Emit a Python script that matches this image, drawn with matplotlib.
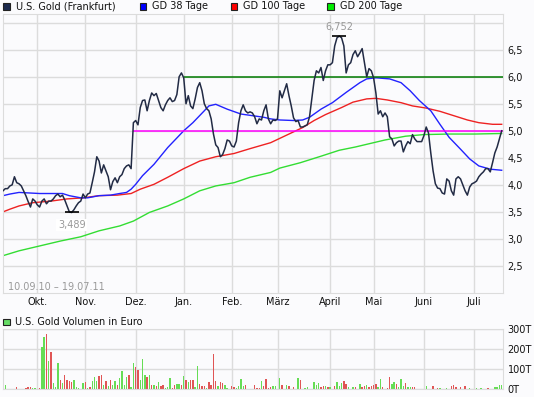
import numpy as np
import matplotlib.pyplot as plt
from matplotlib.patches import Rectangle

plt.rcParams['font.family'] = ['DejaVu Sans']
plt.rcParams['font.size'] = 7

# trading calendar (Frankfurt)
start = '2010-09-10'
holidays = ['2010-12-24', '2010-12-31', '2011-04-22', '2011-04-25']

# daily close, EUR
price = [3.89, 3.93, 3.93, 3.98, 4.00, 4.15, 4.04, 4.02, 3.98, 3.89,
         3.80, 3.69, 3.59, 3.74, 3.70, 3.63, 3.59, 3.70, 3.74, 3.65,
         3.70, 3.70, 3.74, 3.80, 3.83, 3.78, 3.81, 3.72, 3.61, 3.50,
         3.489, 3.54, 3.61, 3.67, 3.70, 3.83, 3.76, 3.83, 3.85, 4.04,
         4.24, 4.52, 4.44, 4.22, 4.37, 4.26, 4.15, 3.91, 4.06, 4.13,
         4.04, 4.15, 4.19, 4.30, 4.35, 4.37, 4.30, 5.15, 5.19, 5.11,
         5.43, 5.56, 5.57, 5.37, 5.56, 5.70, 5.65, 5.69, 5.56, 5.43,
         5.37, 5.48, 5.56, 5.61, 5.54, 5.56, 5.67, 6.00, 6.07, 5.98,
         5.50, 5.65, 5.46, 5.41, 5.59, 5.80, 5.89, 5.74, 5.50, 5.41,
         5.37, 5.22, 4.94, 4.74, 4.69, 4.52, 4.56, 4.67, 4.83, 4.81,
         4.72, 4.70, 4.81, 5.15, 5.37, 5.48, 5.37, 5.33, 5.35, 5.33,
         5.26, 5.13, 5.22, 5.20, 5.37, 5.48, 5.22, 5.13, 5.20, 5.19,
         5.22, 5.74, 5.61, 5.74, 5.87, 5.65, 5.46, 5.24, 5.17, 5.19,
         5.07, 5.07, 5.09, 5.11, 5.26, 5.59, 5.93, 6.11, 6.07, 6.17,
         5.93, 6.11, 6.22, 6.22, 6.26, 6.57, 6.72, 6.752, 6.72, 6.57,
         6.07, 6.22, 6.26, 6.41, 6.48, 6.37, 6.44, 6.52, 6.26, 6.00,
         6.15, 6.11, 5.98, 5.70, 5.31, 5.37, 5.26, 5.33, 5.26, 4.89,
         4.85, 4.72, 4.78, 4.81, 4.81, 4.61, 4.72, 4.80, 4.76, 4.93,
         4.85, 4.80, 4.80, 4.80, 4.91, 5.07, 4.96, 4.59, 4.26, 4.02,
         3.94, 3.93, 3.85, 3.83, 4.11, 4.07, 3.89, 3.81, 4.11, 4.15,
         4.11, 4.00, 3.89, 3.81, 3.96, 4.02, 4.04, 4.07, 4.15, 4.20,
         4.24, 4.30, 4.30, 4.24, 4.41, 4.59, 4.70, 4.85, 5.00]

# daily volume in thousand EUR
volume = [7, 20, 0, 0, 0, 0, 10, 0, 0, 0,
          7, 10, 10, 7, 7, 0, 7, 210, 260, 275,
          140, 187, 30, 12, 132, 45, 30, 70, 45, 40,
          37, 45, 10, 7, 0, 30, 37, 7, 12, 40,
          62, 40, 67, 70, 20, 40, 15, 45, 20, 40,
          20, 57, 90, 20, 62, 70, 10, 133, 110, 97,
          45, 150, 73, 60, 73, 20, 20, 15, 37, 15,
          20, 7, 10, 57, 7, 20, 25, 25, 20, 65,
          45, 35, 45, 45, 10, 115, 25, 15, 15, 5,
          35, 20, 175, 40, 15, 35, 30, 20, 7, 0,
          15, 10, 7, 15, 50, 15, 20, 0, 0, 0,
          20, 7, 7, 40, 15, 50, 7, 10, 15, 15,
          0, 57, 20, 0, 20, 15, 0, 10, 0, 57,
          45, 0, 7, 10, 0, 0, 35, 20, 30, 10,
          15, 15, 10, 10, 0, 15, 35, 15, 30, 40,
          25, 10, 0, 10, 10, 0, 25, 10, 15, 20,
          10, 15, 20, 27, 10, 52, 10, 0, 7, 60,
          27, 35, 25, 10, 52, 15, 30, 10, 10, 10,
          10, 0, 0, 0, 0, 15, 0, 0, 15, 0,
          7, 7, 0, 0, 5, 0, 15, 20, 10, 0,
          10, 0, 15, 0, 7, 0, 0, 7, 0, 7,
          0, 0, 7, 0, 0, 10, 10, 20, 20]
# g = up day, r = down day, - = no trade
vol_dir = ('rg----r---' 'rrrgg-rggr' 'grgggrgrrr' 'rggg-grgrg' 'ggrrgrgrgg'
           'rggggrggrr' 'gggrgrgrgr' 'rgggrrggrg' 'rgrrggrrrg' 'rrrrgrrgg-'
           'rrggggr---' 'rrrgrrrrgg' '-gr-gr-r-g' 'r-gg--gggr' 'rgrg-rgggr'
           'rg-gr-grrg' 'rrrrggr-rr' 'ggrgggrggr' 'r----g--r-' 'rg--g-rrr-'
           'r-r-g--g-g' '--r--gggg')

gd38_dates = ['2010-09-10', '2010-09-15', '2010-09-21', '2010-10-04', '2010-10-12',
              '2010-10-18', '2010-10-21', '2010-10-28', '2010-11-02', '2010-11-09',
              '2010-11-16', '2010-11-22', '2010-11-25', '2010-11-29', '2010-12-01',
              '2010-12-06', '2010-12-13', '2010-12-21', '2011-01-03', '2011-01-07',
              '2011-01-14', '2011-01-18', '2011-01-21', '2011-01-28', '2011-02-07',
              '2011-02-14', '2011-02-21', '2011-02-24', '2011-03-02', '2011-03-10',
              '2011-03-16', '2011-03-21', '2011-03-28', '2011-04-04', '2011-04-12',
              '2011-04-20', '2011-04-27', '2011-05-03', '2011-05-11', '2011-05-18',
              '2011-05-24', '2011-05-30', '2011-06-06', '2011-06-10', '2011-06-16',
              '2011-06-23', '2011-06-29', '2011-07-05', '2011-07-12', '2011-07-19']
gd38 = [3.80, 3.83, 3.86, 3.84, 3.84, 3.84, 3.80, 3.76, 3.76, 3.80,
        3.81, 3.84, 3.86, 3.92, 4.01, 4.17, 4.38, 4.69, 5.00, 5.15,
        5.37, 5.46, 5.49, 5.40, 5.31, 5.28, 5.25, 5.22, 5.20, 5.19,
        5.20, 5.25, 5.40, 5.52, 5.71, 5.89, 5.96, 5.98, 5.96, 5.89,
        5.74, 5.56, 5.37, 5.12, 4.88, 4.66, 4.48, 4.35, 4.29, 4.27]

gd100_dates = ['2010-09-10', '2010-09-15', '2010-09-21', '2010-09-29', '2010-10-11',
               '2010-10-20', '2010-10-29', '2010-11-09', '2010-11-19', '2010-11-29',
               '2010-12-03', '2010-12-13', '2010-12-21', '2011-01-03', '2011-01-12',
               '2011-01-21', '2011-02-02', '2011-02-11', '2011-02-24', '2011-03-07',
               '2011-03-16', '2011-03-23', '2011-03-30', '2011-04-08', '2011-04-15',
               '2011-04-27', '2011-05-03', '2011-05-10', '2011-05-18', '2011-05-25',
               '2011-06-02', '2011-06-10', '2011-06-20', '2011-06-28', '2011-07-05',
               '2011-07-13', '2011-07-19']
gd100 = [3.50, 3.55, 3.61, 3.67, 3.70, 3.74, 3.76, 3.80, 3.81, 3.84,
         3.92, 4.01, 4.14, 4.30, 4.44, 4.52, 4.58, 4.67, 4.78, 4.92,
         5.06, 5.19, 5.30, 5.43, 5.53, 5.59, 5.60, 5.57, 5.52, 5.46,
         5.42, 5.36, 5.28, 5.20, 5.15, 5.12, 5.12]

gd200_dates = ['2010-09-10', '2010-09-21', '2010-10-04', '2010-10-15', '2010-10-28',
               '2010-11-09', '2010-11-22', '2010-11-30', '2010-12-09', '2010-12-21',
               '2011-01-03', '2011-01-12', '2011-01-21', '2011-02-02', '2011-02-11',
               '2011-02-24', '2011-03-02', '2011-03-15', '2011-03-28', '2011-04-07',
               '2011-04-18', '2011-04-28', '2011-05-09', '2011-05-20', '2011-06-01',
               '2011-06-16', '2011-07-01', '2011-07-19']
gd200 = [2.69, 2.78, 2.87, 2.96, 3.04, 3.15, 3.24, 3.33, 3.49, 3.61,
         3.74, 3.89, 3.98, 4.04, 4.14, 4.23, 4.31, 4.41, 4.53, 4.64,
         4.70, 4.76, 4.83, 4.90, 4.93, 4.94, 4.94, 4.95]

# horizontal marker lines
level_vals = [6.0, 5.0]
level_from = ['2011-01-03', '2010-11-30']
level_cols = ['#007a00', '#ff00ff']

month_starts = ['2010-10-01', '2010-11-01', '2010-12-01', '2011-01-01', '2011-02-01',
                '2011-03-01', '2011-04-01', '2011-05-01', '2011-06-01', '2011-07-01']
month_labels = ['Okt.', 'Nov.', 'Dez.', 'Jan.', 'Feb.', 'März', 'April', 'Mai', 'Juni', 'Juli']

legend_labels = ['U.S. Gold (Frankfurt)', 'GD 38 Tage', 'GD 100 Tage', 'GD 200 Tage']
legend_cols = ['#1c2a4e', '#0000ff', '#ff0000', '#00ee00']

BG = '#fbfbfd'
GRID = '#dcdcdc'
W, H = 534, 397


def tday(d):
    return np.busday_count(start, d, holidays=holidays)


def dec(v, n):
    return f'{v:.{n}f}'.replace('.', ',')


n = len(price)
x = np.arange(n)
days = np.busday_offset(start, x, holidays=holidays)
mx = tday(month_starts)

fig = plt.figure(figsize=(W / 100, H / 100), dpi=100, facecolor=BG)

# price panel
ax = fig.add_axes([3 / W, 1 - 293 / H, 500.3 / W, 279 / H], facecolor=BG)
ax.set_xlim(0, 218.7)
ax.set_ylim(2.0, 7.16)
yt = np.arange(2.5, 7.01, 0.5)
ax.set_yticks(yt)
ax.set_yticklabels([dec(v, 1) if v < 6.9 else '' for v in yt])
ax.yaxis.tick_right()
ax.set_xticks(mx)
ax.set_xticklabels(month_labels)
ax.tick_params(length=0, pad=3, labelsize=7, colors='#111111')
ax.grid(True, color=GRID, lw=1)
ax.set_axisbelow(True)
for s in ax.spines.values():
    s.set_color(GRID)

ax.plot(tday(gd200_dates), gd200, color='#33dd33', lw=1)
ax.plot(tday(gd100_dates), gd100, color='#ee2222', lw=1)
ax.plot(tday(gd38_dates), gd38, color='#2222ff', lw=1)
for v, d, c in zip(level_vals, level_from, level_cols):
    ax.hlines(v, tday(d), 218.7, color=c, lw=1.1, zorder=3)
ax.plot(x, price, color='#222b45', lw=1.1, zorder=4)

imax = int(np.argmax(price))
imin = int(np.argmin(price))
ax.plot([imax, imin], [price[imax], price[imin]], ls='none', marker='_',
        ms=10, mew=1.2, color='black', zorder=5)
ax.annotate(dec(price[imax], 3), (imax, price[imax]), xytext=(0, 6.5),
            textcoords='offset points', ha='center', va='center', color='#999999')
ax.annotate(dec(price[imin], 3), (imin, price[imin]), xytext=(0, -9),
            textcoords='offset points', ha='center', va='center', color='#999999',
            bbox=dict(boxstyle='square,pad=0.15', fc='white', ec='none'))

d0 = days[0].astype(object)
d1 = days[-1].astype(object)
ax.text(0.0106, 0.0215, f'{d0:%d.%m.%y} – {d1:%d.%m.%y}', transform=ax.transAxes,
        ha='left', va='center', color='#999999')

# legend across the top
for lx, label, col in zip([3, 139.6, 230.6, 327], legend_labels, legend_cols):
    fig.add_artist(Rectangle((lx / W, 1 - 9.5 / H), 6.5 / W, 6.5 / H, fc=col,
                             ec='#222222', lw=0.8, transform=fig.transFigure))
    fig.text((lx + 12.5) / W, 1 - 6.3 / H, label, ha='left', va='center', color='#111111')

# volume panel
vax = fig.add_axes([3 / W, 1 - 389.3 / H, 500.3 / W, 60 / H], facecolor=BG)
vax.set_xlim(0, 218.7)
vax.set_ylim(0, 300)
vax.set_yticks([0, 100, 200, 300])
vax.set_yticklabels(['0T', '100T', '200T', '300T'])
vax.yaxis.tick_right()
vax.set_xticks(mx)
vax.set_xticklabels([])
vax.tick_params(length=0, pad=3, labelsize=7, colors='#111111')
vax.grid(True, color=GRID, lw=1)
vax.set_axisbelow(True)
for s in vax.spines.values():
    s.set_color(GRID)
vcol = ['#66dd55' if c == 'g' else '#e05555' for c in vol_dir]
vax.bar(x, volume, width=0.6, color=vcol, lw=0)

fig.add_artist(Rectangle((3.4 / W, 1 - 325 / H), 6.2 / W, 6.2 / H, fc='#66dd66',
                         ec='#222222', lw=0.8, transform=fig.transFigure))
fig.text(15.3 / W, 1 - 321.8 / H, 'U.S. Gold Volumen in Euro', ha='left', va='center',
         color='#111111')

fig.savefig('out.png', dpi=100, facecolor=BG)
